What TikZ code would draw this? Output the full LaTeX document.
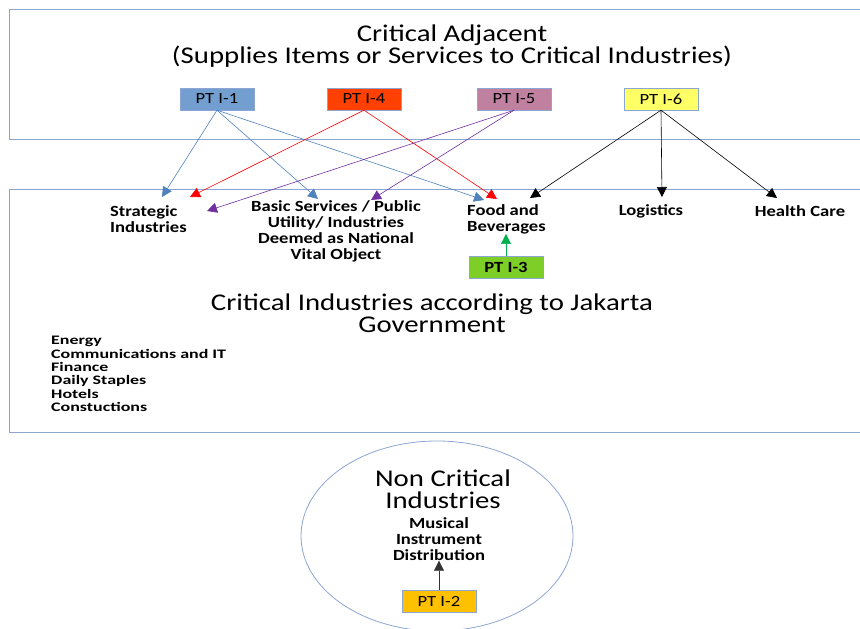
\documentclass[tikz,border=0pt]{standalone}
\usepackage{fontspec}
\setmainfont{Carlito}[FakeStretch=1.2]
\newfontfamily\listfont{Carlito}[FakeStretch=1.38]
\usetikzlibrary{arrows.meta,shapes.geometric}
\definecolor{frame}{RGB}{140,165,210}
\definecolor{ptblue}{RGB}{114,159,207}
\definecolor{ptred}{RGB}{255,64,0}
\definecolor{ptmauve}{RGB}{192,128,160}
\definecolor{ptyellow}{RGB}{255,255,102}
\definecolor{ptgreen}{RGB}{126,206,40}
\definecolor{ptamber}{RGB}{255,192,0}
\definecolor{lnblue}{RGB}{79,129,189}
\definecolor{lnpurple}{RGB}{112,48,160}
\definecolor{lngreen}{RGB}{0,176,80}
\tikzset{
  ptbox/.style={draw=frame, fill=#1, minimum width=74pt, minimum height=22pt, inner sep=0pt, font=\fontsize{15.5}{16}\selectfont},
  lbl/.style={align=center, font=\bfseries\fontsize{15.5}{16}\selectfont, inner sep=0pt},
  big/.style={align=center, font=\fontsize{24}{22}\selectfont, inner sep=0pt},
  link/.style={-{Triangle[length=10pt,width=10pt]}, line width=0.6pt},
}
\begin{document}
\begin{tikzpicture}[x=1pt,y=-1pt]
  \useasboundingbox (0,0) rectangle (860,629);
  % the two bands
  \draw[frame, line width=0.8pt] (9,9) rectangle (880,139);
  \draw[frame, line width=0.8pt] (9,189) rectangle (880,432);
  \node[big] (adj) at (452,46) {Critical Adjacent\\(Supplies Items or Services to Critical Industries)};
  \node[big] (crit) at (432,313) {Critical Industries according to Jakarta\\Government};
  % suppliers
  \node[ptbox=ptblue] (pt1) at (217,99) {PT I-1};
  \node[ptbox=ptred] (pt4) at (364,99) {PT I-4};
  \node[ptbox=ptmauve] (pt5) at (514,99) {PT I-5};
  \node[ptbox=ptyellow] (pt6) at (661,99) {PT I-6};
  % critical industries
  \node[lbl, align=left, anchor=west] (strat) at (110,219) {Strategic\\Industries};
  \node[lbl] (basic) at (336,231) {Basic Services / Public\\Utility/ Industries\\Deemed as National\\Vital Object};
  \node[lbl, align=left, anchor=west] (food) at (467,219) {Food and\\Beverages};
  \node[lbl] (logi) at (651,211) {Logistics};
  \node[lbl] (health) at (800,211) {Health Care};
  \node[ptbox=ptgreen, font=\bfseries\fontsize{15.5}{16}\selectfont] (pt3) at (506,267) {PT I-3};
  \node[align=left, anchor=north west, inner sep=0pt, font=\listfont\bfseries\fontsize{13}{13.4}\selectfont] (list) at (51,336)
    {Energy\\Communications and IT\\Finance\\Daily Staples\\Hotels\\Constuctions};
  % arrow ends
  \coordinate (s1) at (162,197); \coordinate (s4) at (190,197); \coordinate (s5) at (207,211);
  \coordinate (b1) at (318,199); \coordinate (b5) at (371,200);
  \coordinate (f1) at (484,200); \coordinate (f4) at (497,199); \coordinate (f6) at (530,198);
  \coordinate (l6) at (662,197); \coordinate (h6) at (777,198);
  \draw[link, lnblue] (pt1.south) -- (s1);
  \draw[link, lnblue] (pt1.south) -- (b1);
  \draw[link, lnblue] (pt1.south) -- (f1);
  \draw[link, red] (pt4.south) -- (s4);
  \draw[link, red] (pt4.south) -- (f4);
  \draw[link, lnpurple] (pt5.south) -- (s5);
  \draw[link, lnpurple] (pt5.south) -- (b5);
  \draw[link] (pt6.south) -- (f6);
  \draw[link] (pt6.south) -- (l6);
  \draw[link] (pt6.south) -- (h6);
  \draw[link, lngreen] (pt3.north) -- (pt3.north |- food.south);
  % non critical
  \node[ellipse, draw=frame, line width=0.8pt, minimum width=272pt, minimum height=190pt] (nonc) at (437,536) {};
  \node[big] (nctitle) at (443,489) {Non Critical\\Industries};
  \node[lbl] (music) at (439,539) {Musical\\Instrument\\Distribution};
  \node[ptbox=ptamber] (pt2) at (439,601) {PT I-2};
  \draw[link, black!80] (pt2.north) -- (music.south);
\end{tikzpicture}
\end{document}
